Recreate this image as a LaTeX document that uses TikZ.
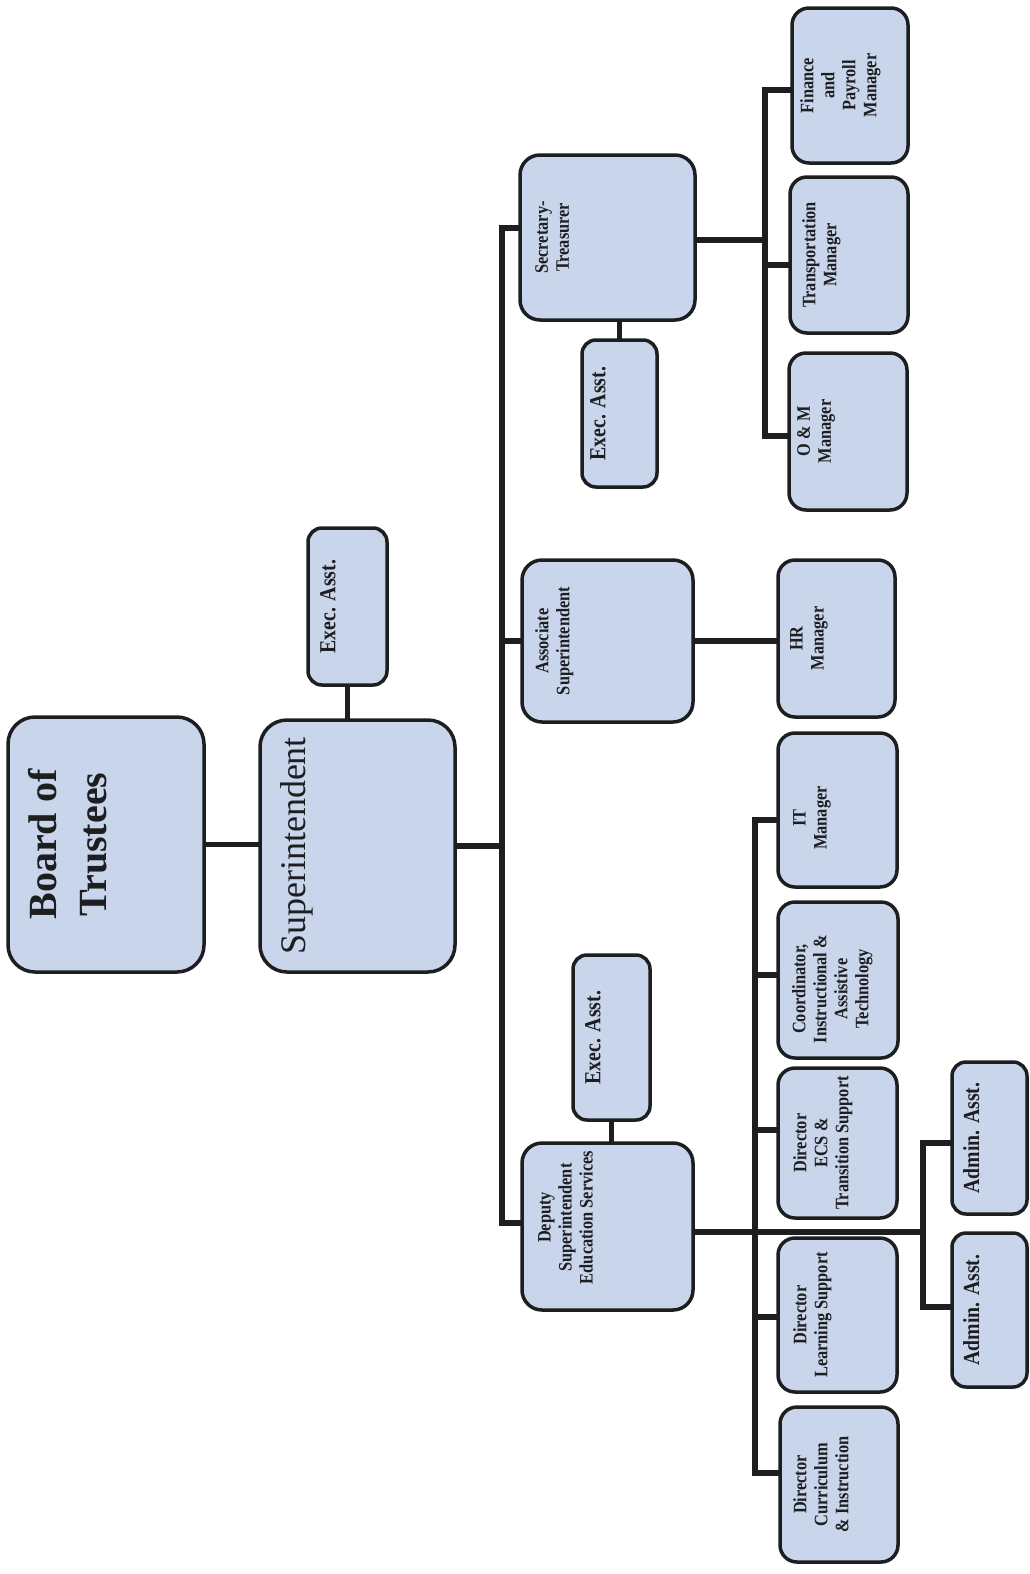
\documentclass[tikz,border=0pt]{standalone}
\usepackage{fontspec}
\setmainfont{Liberation Serif}
\newfontfamily\condf[FakeStretch=0.86]{Liberation Serif}
\definecolor{boxfill}{RGB}{201,213,235}
\definecolor{ink}{RGB}{28,30,32}
\pgfdeclarelayer{bg}
\pgfsetlayers{bg,main}
\tikzset{
  box/.style={draw=ink, line width=3.5pt, fill=boxfill, rounded corners=14pt, inner sep=0pt, outer sep=0pt},
  conn/.style={draw=ink, line width=5.5pt},
  lbl/.style={rotate=90, anchor=north, align=center, inner sep=0pt, text=ink,
    font=\condf\bfseries\fontsize{19}{21}\selectfont},
  asst/.style={lbl, font=\condf\bfseries\fontsize{23}{23}\selectfont},
}
\begin{document}
\begin{tikzpicture}[x=1pt,y=-1pt]
\useasboundingbox (0,0) rectangle (1029,1574);
% boxes
\node[box, rounded corners=27pt, minimum width=196pt, minimum height=255pt] (board) at (106,844.5) {};
\node[box, rounded corners=27pt, minimum width=195pt, minimum height=252pt] (sup) at (357.5,846) {};
\node[box, minimum width=79pt, minimum height=157pt] (supea) at (347.5,606.5) {};
\node[box, rounded corners=20pt, minimum width=171pt, minimum height=167pt] (dep) at (607.5,1226.5) {};
\node[box, minimum width=77pt, minimum height=165pt] (depea) at (611.5,1037.5) {};
\node[box, rounded corners=20pt, minimum width=171pt, minimum height=162pt] (assoc) at (607.5,641) {};
\node[box, rounded corners=20pt, minimum width=175pt, minimum height=165pt] (sec) at (607.5,237.5) {};
\node[box, minimum width=75pt, minimum height=147pt] (secea) at (619.5,413.5) {};
\node[box, rounded corners=17pt, minimum width=116pt, minimum height=155pt] (fin) at (850,85.5) {};
\node[box, rounded corners=17pt, minimum width=118pt, minimum height=156pt] (trans) at (849,255) {};
\node[box, rounded corners=17pt, minimum width=118pt, minimum height=157pt] (om) at (848,431.5) {};
\node[box, rounded corners=17pt, minimum width=117pt, minimum height=157pt] (hr) at (836.5,638.5) {};
\node[box, rounded corners=17pt, minimum width=119pt, minimum height=154pt] (it) at (837.5,810) {};
\node[box, rounded corners=17pt, minimum width=120pt, minimum height=156pt] (coord) at (838,980) {};
\node[box, rounded corners=17pt, minimum width=119pt, minimum height=150pt] (ecs) at (837.5,1143) {};
\node[box, rounded corners=17pt, minimum width=119pt, minimum height=154pt] (ls) at (837.5,1315) {};
\node[box, rounded corners=17pt, minimum width=118pt, minimum height=155pt] (ci) at (839,1484.5) {};
\node[box, minimum width=75pt, minimum height=152pt] (aa1) at (989.5,1138) {};
\node[box, minimum width=75pt, minimum height=154pt] (aa2) at (989.5,1310) {};
% labels
\node[lbl, font=\bfseries\fontsize{40}{50}\selectfont] (board-t) at ([xshift=20pt]board.west) {Board of\\Trustees};
\node[lbl, font=\fontsize{36}{40}\selectfont] (sup-t) at ([xshift=20pt]sup.west) {Superintendent};
\node[asst] (supea-t) at ([xshift=12pt]supea.west) {Exec. Asst.};
\node[lbl] (sec-t) at ([xshift=15pt]sec.west) {Secretary-\\Treasurer};
\node[asst] (secea-t) at ([xshift=8pt]secea.west) {Exec. Asst.};
\node[lbl] (assoc-t) at ([xshift=13pt]assoc.west) {Associate\\Superintendent};
\node[lbl] (dep-t) at ([xshift=16pt,yshift=9pt]dep.west) {Deputy\\Superintendent\\Education Services};
\node[asst] (depea-t) at ([xshift=12pt]depea.west) {Exec. Asst.};
\node[lbl] (fin-t) at ([xshift=8pt]fin.west) {Finance\\and\\Payroll\\Manager};
\node[lbl] (trans-t) at ([xshift=12pt]trans.west) {Transportation\\Manager};
\node[lbl] (om-t) at ([xshift=8pt]om.west) {O \& M\\Manager};
\node[lbl] (hr-t) at ([xshift=12pt]hr.west) {HR\\Manager};
\node[lbl] (it-t) at ([xshift=15pt,yshift=-8pt]it.west) {IT\\Manager};
\node[lbl] (coord-t) at ([xshift=14pt,yshift=-9pt]coord.west) {Coordinator,\\Instructional \&\\Assistive\\Technology};
\node[lbl] (ecs-t) at ([xshift=15pt]ecs.west) {Director\\ECS \&\\Transition Support};
\node[lbl] (ls-t) at ([xshift=15pt]ls.west) {Director\\Learning Support};
\node[lbl] (ci-t) at ([xshift=13pt]ci.west) {Director\\Curriculum\\\& Instruction};
\node[asst] (aa1-t) at ([xshift=11pt]aa1.west) {Admin. Asst.};
\node[asst] (aa2-t) at ([xshift=11pt]aa2.west) {Admin. Asst.};
% connectors
\begin{pgfonlayer}{bg}
\fill[white] (0,0) rectangle (1029,1574);
\coordinate (spine) at (502,846);
\coordinate (sbus) at (765,240);
\coordinate (dbus) at (755,1232);
\coordinate (abus) at (923,1232);
\draw[conn] (board.east) -- (board.east -| sup.west);
\draw[conn] (supea.south) -- (supea.south |- sup.north);
\draw[conn] (sup.east) -- (spine);
\draw[conn] ([yshift=9.5pt]sec.west) -| (spine);
\draw[conn] (assoc.west) -| (spine);
\draw[conn] ([yshift=3.5pt]dep.west) -| (spine);
\draw[conn] (secea.north) -- (secea.north |- sec.south);
\draw[conn] (depea.south) -- (depea.south |- dep.north);
\draw[conn] ([yshift=-2.5pt]sec.east) -- (sbus);
\draw[conn] ([yshift=-4.5pt]fin.west) -| (sbus);
\draw[conn] ([yshift=-10pt]trans.west) -| (sbus);
\draw[conn] ([yshift=-4.5pt]om.west) -| (sbus);
\draw[conn] (assoc.east) -- (assoc.east -| hr.west);
\draw[conn] ([yshift=-5.5pt]dep.east) -- (abus);
\draw[conn] ([yshift=-10pt]it.west) -| (dbus);
\draw[conn] ([yshift=5pt]coord.west) -| (dbus);
\draw[conn] ([yshift=13pt]ecs.west) -| (dbus);
\draw[conn] ([yshift=-2pt]ls.west) -| (dbus);
\draw[conn] ([yshift=11.5pt]ci.west) -| (dbus);
\draw[conn] ([yshift=-5pt]aa1.west) -| (abus);
\draw[conn] ([yshift=3pt]aa2.west) -| (abus);
\end{pgfonlayer}
\end{tikzpicture}
\end{document}
